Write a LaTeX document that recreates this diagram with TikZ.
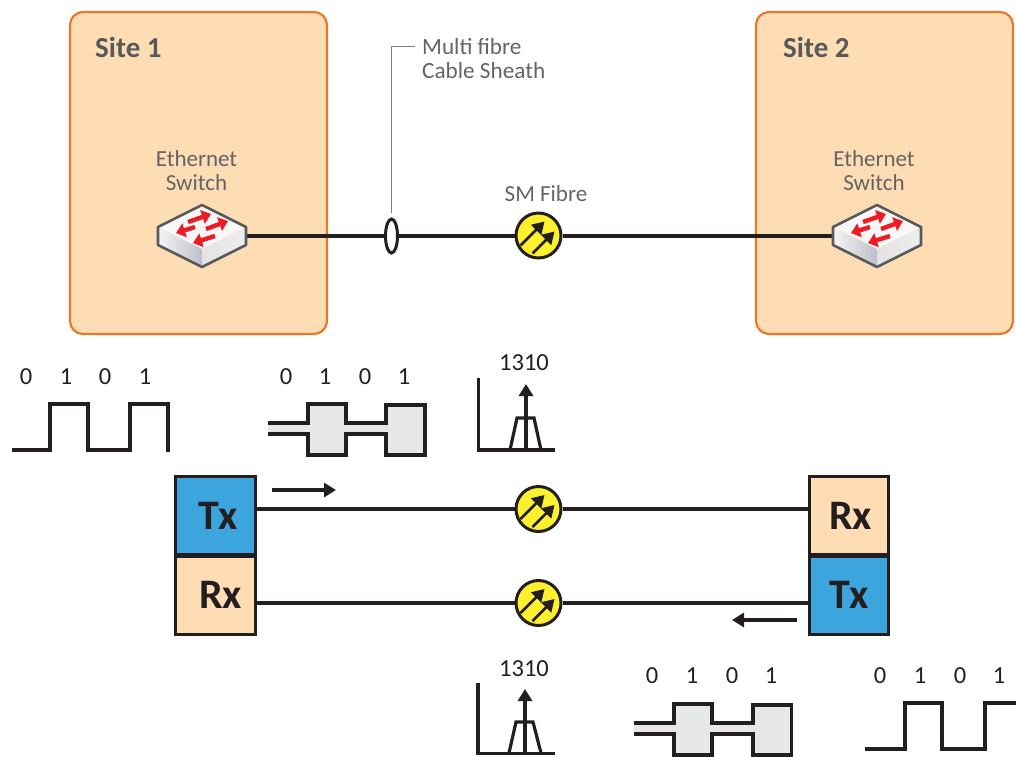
\documentclass[tikz,border=0pt]{standalone}
\usepackage{fontspec}
\setmainfont{Carlito}
\usetikzlibrary{arrows.meta,shapes.geometric}
\definecolor{sitefill}{HTML}{FEDDB5}
\definecolor{siteline}{HTML}{E8792B}
\definecolor{txt}{HTML}{636466}
\definecolor{dark}{HTML}{231F20}
\definecolor{txblue}{HTML}{3DA5DE}
\definecolor{fibreyellow}{HTML}{FDF02F}
\definecolor{sigfill}{HTML}{E6E7E8}
\definecolor{swline}{HTML}{58595B}
\definecolor{swred}{HTML}{ED1C24}
\tikzset{
  sitebox/.style={draw=siteline,fill=sitefill,line width=2.2pt,rounded corners=13pt,minimum width=257pt,minimum height=322pt,inner sep=0},
  sitelabel/.style={anchor=west,text=swline,font=\fontsize{29}{32}\selectfont\bfseries,inner sep=0},
  lbl/.style={text=txt,font=\fontsize{23}{24}\selectfont,align=center,inner sep=0},
  lblleft/.style={text=txt,font=\fontsize{23.2}{24}\selectfont,align=left,anchor=west,inner sep=0},
  digit/.style={text=dark,font=\fontsize{24.5}{26}\selectfont,inner sep=0},
  swnode/.style={minimum width=88pt,minimum height=62pt,inner sep=0},
  fibrenode/.style={circle,draw=dark,fill=fibreyellow,line width=3pt,minimum size=45pt,inner sep=0},
  trxbox/.style={draw=dark,line width=3pt,minimum width=79.5pt,minimum height=78pt,inner sep=0,text=dark,font=\fontsize{42}{44}\selectfont\bfseries},
  cable/.style={draw=dark,line width=4pt},
  link/.style={draw=dark,line width=3.2pt},
  sig/.style={draw=dark,line width=3.2pt,miter limit=10},
  flow/.style={draw=dark,line width=3.2pt,-{Triangle[length=12pt,width=14pt]}},
  fibrearrow/.style={draw=dark,line width=2.6pt,-{Triangle[length=12pt,width=14pt]}},
  redarrow/.style={draw=swred,line width=4.4pt,-{Triangle[length=9pt,width=14pt]}},
}
% switch symbol centred on (#1,#2)
\newcommand{\switchsym}[2]{%
  \begin{scope}[shift={(#1,#2)}]
    \fill[white!97!black] (-44,-9) -- (0,-31) -- (44,-9) -- (0,13) -- cycle;
    \shade[left color=gray!8,right color=blue!12!gray!45] (-44,-9) -- (0,13) -- (0,31) -- (-44,9) -- cycle;
    \shade[left color=gray!22,right color=gray!14] (0,13) -- (44,-9) -- (44,9) -- (0,31) -- cycle;
    \draw[line width=2.6pt,swline,line join=round] (-44,-9) -- (0,-31) -- (44,-9) -- (44,9) -- (0,31) -- (-44,9) -- cycle;
    \draw[redarrow] (-14,-14) -- (9,-22);
    \draw[redarrow] (4,-7) -- (26,-15);
    \draw[redarrow] (-7,-9) -- (-26,-3);
    \draw[redarrow] (13,0) -- (-9,7);
  \end{scope}}
% arrows of the fibre symbol, centred on (#1,#2)
\newcommand{\fibresym}[2]{%
  \begin{scope}[shift={(#1,#2)}]
    \draw[fibrearrow] (-18,10) -- (6,-14);
    \draw[fibrearrow] (-6,18) -- (16,-4);
  \end{scope}}
\newcommand{\digits}[6]{%
  \node[digit] (#1a) at (#2,#6) {0};
  \node[digit] (#1b) at (#3,#6) {1};
  \node[digit] (#1c) at (#4,#6) {0};
  \node[digit] (#1d) at (#5,#6) {1};}
\begin{document}
\begin{tikzpicture}[x=1pt,y=-1pt,line join=miter]
\useasboundingbox (0,0) rectangle (1016,756);
% sites
\node[sitebox] (site1) at (198.5,173) {};
\node[sitebox] (site2) at (884.5,173) {};
\node[sitelabel] (site1t) at (95,47) {Site 1};
\node[sitelabel] (site2t) at (783,47) {Site 2};
\node[lbl] (eth1) at (196.5,170.5) {Ethernet\\Switch};
\node[lbl] (eth2) at (874,170.5) {Ethernet\\Switch};
\node[lblleft] (multi) at (422,58.5) {Multi fibre\\Cable Sheath};
\node[lbl] (sm) at (546,194) {SM Fibre};
% top link
\node[swnode] (sw1) at (202,236) {};
\node[swnode] (sw2) at (877,236) {};
\node[ellipse,draw=dark,fill=white,line width=3pt,minimum width=12pt,minimum height=34pt,inner sep=0] (gland) at (391.5,236) {};
\node[fibrenode] (f0) at (538.5,235.5) {};
\fibresym{538.5}{235.5}
\draw[cable] (sw1) -- (gland);
\draw[cable] (gland) -- (f0.west |- gland);
\draw[cable] (f0.east |- gland) -- (sw2);
\switchsym{202}{236}
\switchsym{877}{236}
\coordinate (leadtop) at (391.5,46);
\coordinate (leadend) at (415,46);
\draw[draw=gray,line width=1pt] (gland.north) ++(0,-5) -- (leadtop) -- (leadend);
% transceivers
\node[trxbox,fill=txblue] (tx1) at (215.5,515.5) {\hspace*{5pt}Tx};
\node[trxbox,fill=sitefill] (rx1) at (215.5,595) {\hspace*{10pt}Rx};
\node[trxbox,fill=sitefill] (rx2) at (849,515.5) {\hspace*{3pt}Rx};
\node[trxbox,fill=txblue] (tx2) at (849,595) {Tx};
\node[fibrenode] (f1) at (538.5,509) {};
\node[fibrenode] (f2) at (538.5,603) {};
\fibresym{538.5}{509}
\fibresym{538.5}{603}
\draw[link] (tx1.east |- f1) -- (f1);
\draw[link] (f1) -- (rx2.west |- f1);
\draw[link] (rx1.east |- f2) -- (f2);
\draw[link] (f2) -- (tx2.west |- f2);
\coordinate (fa1) at (272,490); \coordinate (fb1) at (336,490);
\coordinate (fa2) at (797,620); \coordinate (fb2) at (732,620);
\draw[flow] (fa1) -- (fb1);
\draw[flow] (fa2) -- (fb2);
% signals, upper row
\digits{ua}{26}{66}{105}{145}{377}
\digits{ub}{286}{325}{365}{404}{377}
\node[digit] (wl1) at (524,363) {1310};
\draw[sig] (12,450) -- (50,450) -- (50,404) -- (88,404) -- (88,450) -- (130,450) -- (130,404) -- (168,404) -- (168,452);
\fill[sigfill] (268,423) -- (308,423) -- (308,404) -- (346,404) -- (346,423) -- (386,423) -- (386,405) -- (425,405) -- (425,455) -- (386,455) -- (386,434) -- (346,434) -- (346,455) -- (308,455) -- (308,434) -- (268,434) -- cycle;
\draw[sig] (268,423) -- (308,423) -- (308,404) -- (346,404) -- (346,423) -- (386,423) -- (386,405) -- (425,405) -- (425,455) -- (386,455) -- (386,434) -- (346,434) -- (346,455) -- (308,455) -- (308,434) -- (268,434);
\draw[sig] (478.5,378) -- (478.5,450) -- (555,450);
\draw[sig] (510,450) -- (517,418) -- (534,418) -- (541,450);
\draw[sig,-{Triangle[length=12pt,width=14pt]}] (526,450) -- (526,384);
% signals, lower row
\digits{la}{652}{692}{732}{771}{676}
\digits{lb}{880}{920}{960}{999}{676}
\node[digit] (wl2) at (524,669) {1310};
\draw[sig] (478,683) -- (478,753.5) -- (555,753.5);
\draw[sig] (509,753) -- (516,722) -- (533,722) -- (541,753);
\draw[sig,-{Triangle[length=12pt,width=14pt]}] (525,753) -- (525,689);
\fill[sigfill] (634,723) -- (674,723) -- (674,704) -- (712,704) -- (712,723) -- (753,723) -- (753,705) -- (791.5,705) -- (791.5,755) -- (753,755) -- (753,734) -- (712,734) -- (712,755) -- (674,755) -- (674,734) -- (634,734) -- cycle;
\draw[sig] (634,723) -- (674,723) -- (674,704) -- (712,704) -- (712,723) -- (753,723) -- (753,705) -- (791.5,705) -- (791.5,755) -- (753,755) -- (753,734) -- (712,734) -- (712,755) -- (674,755) -- (674,734) -- (634,734);
\draw[sig] (865,749) -- (905,749) -- (905,703) -- (942,703) -- (942,749) -- (985,749) -- (985,703) -- (1016,703);
\end{tikzpicture}
\end{document}
